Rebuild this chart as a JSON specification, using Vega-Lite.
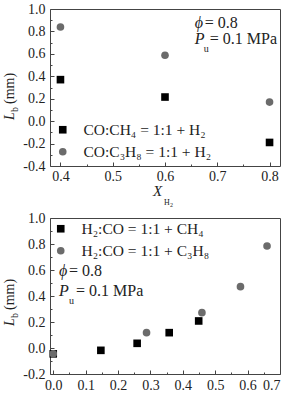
{
  "$schema": "https://vega.github.io/schema/vega-lite/v6.json",
  "padding": {"left": 2, "top": 1, "right": 0, "bottom": 0},
  "bounds": "flush",
  "spacing": 52,
  "background": "white",
  "config": {
    "view": {"stroke": "#444", "strokeWidth": 1},
    "axis": {"domain": false, "grid": false, "tickColor": "#444", "labelFont": "Liberation Serif", "labelFontSize": 14, "labelColor": "#222", "offset": 0},
    "axisLeft": {"labelPadding": 9},
    "axisBottom": {"labelPadding": 7},
    "text": {"font": "Liberation Serif", "color": "#222"},
    "legend": {"labelFont": "Liberation Serif"}
  },
  "resolve": {"scale": {"color": "independent", "shape": "independent"}, "legend": {"color": "independent", "shape": "independent"}},
  "vconcat": [
    {
      "width": 230,
      "height": 157,
      "data": {"values": [
        {"series": "CO:CH₄ = 1:1 + H₂", "x": 0.4, "y": 0.37},
        {"series": "CO:CH₄ = 1:1 + H₂", "x": 0.6, "y": 0.215},
        {"series": "CO:CH₄ = 1:1 + H₂", "x": 0.8, "y": -0.19},
        {"series": "CO:C₃H₈ = 1:1 + H₂", "x": 0.4, "y": 0.84},
        {"series": "CO:C₃H₈ = 1:1 + H₂", "x": 0.6, "y": 0.587},
        {"series": "CO:C₃H₈ = 1:1 + H₂", "x": 0.8, "y": 0.17}
      ]},
      "resolve": {"axis": {"x": "independent", "y": "independent"}},
      "layer": [
        {
          "mark": {"type": "point", "filled": true, "opacity": 1, "size": 58},
          "encoding": {
            "x": {"field": "x", "type": "quantitative", "scale": {"domain": [0.38, 0.82], "nice": false, "zero": false}, "axis": {"values": [0.4, 0.45, 0.5, 0.55, 0.6, 0.65, 0.7, 0.75, 0.8], "format": ".1f", "labelExpr": "round(datum.value*20) % 2 == 0 ? datum.label : ''", "tickSize": {"condition": {"test": "round(datum.value*20) % 2 == 0", "value": -4}, "value": -2}, "title": null, "orient": "bottom"}},
            "y": {"field": "y", "type": "quantitative", "scale": {"domain": [-0.4, 1.0], "nice": false, "zero": false}, "axis": {"values": [-0.4, -0.3, -0.2, -0.1, 0, 0.1, 0.2, 0.3, 0.4, 0.5, 0.6, 0.7, 0.8, 0.9, 1.0], "format": ".1f", "labelExpr": "round(datum.value*10) % 2 == 0 ? replace(datum.label, '−', '-') : ''", "tickSize": {"condition": {"test": "round(datum.value*10) % 2 == 0", "value": -4}, "value": -2}, "title": null, "orient": "left"}},
            "shape": {"field": "series", "type": "nominal", "scale": {"domain": ["CO:CH₄ = 1:1 + H₂", "CO:C₃H₈ = 1:1 + H₂"], "range": ["square", "circle"]},
              "legend": {"title": null, "orient": "bottom-left", "offset": 5, "padding": 0, "rowPadding": 5, "labelOffset": 13, "labelFont": "Liberation Serif", "labelFontSize": 15.5, "labelColor": "#222", "symbolSize": 58, "symbolStrokeWidth": 0, "labelLimit": 200}},
            "color": {"field": "series", "type": "nominal", "scale": {"domain": ["CO:CH₄ = 1:1 + H₂", "CO:C₃H₈ = 1:1 + H₂"], "range": ["#000000", "#6b6b6b"]},
              "legend": {"title": null, "orient": "bottom-left", "offset": 5, "padding": 0, "rowPadding": 5, "labelOffset": 13, "labelFont": "Liberation Serif", "labelFontSize": 15.5, "labelColor": "#222", "symbolSize": 58, "symbolStrokeWidth": 0, "labelLimit": 200}}
          }
        },
        {
          "data": {"values": [{}]},
          "mark": {"type": "text", "text": "ϕ", "font": "Liberation Serif", "fontStyle": "italic", "fontSize": 16, "align": "left", "baseline": "alphabetic"},
          "encoding": {
            "x": {"datum": 0.657, "type": "quantitative", "scale": {"domain": [0.38, 0.82], "nice": false, "zero": false}, "axis": null},
            "y": {"datum": 0.83, "type": "quantitative", "scale": {"domain": [-0.4, 1.0], "nice": false, "zero": false}, "axis": null}
          }
        },
        {
          "data": {"values": [{}]},
          "mark": {"type": "text", "text": "= 0.8", "font": "Liberation Serif", "fontSize": 16, "align": "left", "baseline": "alphabetic", "dx": 10},
          "encoding": {
            "x": {"datum": 0.657, "type": "quantitative", "scale": {"domain": [0.38, 0.82], "nice": false, "zero": false}, "axis": null},
            "y": {"datum": 0.83, "type": "quantitative", "scale": {"domain": [-0.4, 1.0], "nice": false, "zero": false}, "axis": null}
          }
        },
        {
          "data": {"values": [{}]},
          "mark": {"type": "text", "text": "P", "font": "Liberation Serif", "fontStyle": "italic", "fontSize": 16, "align": "left", "baseline": "alphabetic"},
          "encoding": {
            "x": {"datum": 0.657, "type": "quantitative", "scale": {"domain": [0.38, 0.82], "nice": false, "zero": false}, "axis": null},
            "y": {"datum": 0.688, "type": "quantitative", "scale": {"domain": [-0.4, 1.0], "nice": false, "zero": false}, "axis": null}
          }
        },
        {
          "data": {"values": [{}]},
          "mark": {"type": "text", "text": "u", "font": "Liberation Serif", "fontSize": 10, "align": "left", "baseline": "alphabetic", "dx": 9, "dy": 8},
          "encoding": {
            "x": {"datum": 0.657, "type": "quantitative", "scale": {"domain": [0.38, 0.82], "nice": false, "zero": false}, "axis": null},
            "y": {"datum": 0.688, "type": "quantitative", "scale": {"domain": [-0.4, 1.0], "nice": false, "zero": false}, "axis": null}
          }
        },
        {
          "data": {"values": [{}]},
          "mark": {"type": "text", "text": "= 0.1 MPa", "font": "Liberation Serif", "fontSize": 16, "align": "left", "baseline": "alphabetic", "dx": 15},
          "encoding": {
            "x": {"datum": 0.657, "type": "quantitative", "scale": {"domain": [0.38, 0.82], "nice": false, "zero": false}, "axis": null},
            "y": {"datum": 0.688, "type": "quantitative", "scale": {"domain": [-0.4, 1.0], "nice": false, "zero": false}, "axis": null}
          }
        },
        {
          "data": {"values": [{}]},
          "mark": {"type": "text", "text": "X", "font": "Liberation Serif", "fontStyle": "italic", "fontSize": 15, "align": "left", "baseline": "alphabetic", "dy": 30},
          "encoding": {
            "x": {"datum": 0.577, "type": "quantitative", "scale": {"domain": [0.38, 0.82], "nice": false, "zero": false}, "axis": null},
            "y": {"datum": -0.4, "type": "quantitative", "scale": {"domain": [-0.4, 1.0], "nice": false, "zero": false}, "axis": null}
          }
        },
        {
          "data": {"values": [{}]},
          "mark": {"type": "text", "text": "H", "font": "Liberation Serif", "fontSize": 8, "align": "left", "baseline": "alphabetic", "dx": 11, "dy": 39},
          "encoding": {
            "x": {"datum": 0.577, "type": "quantitative", "scale": {"domain": [0.38, 0.82], "nice": false, "zero": false}, "axis": null},
            "y": {"datum": -0.4, "type": "quantitative", "scale": {"domain": [-0.4, 1.0], "nice": false, "zero": false}, "axis": null}
          }
        },
        {
          "data": {"values": [{}]},
          "mark": {"type": "text", "text": "2", "font": "Liberation Serif", "fontSize": 6, "align": "left", "baseline": "alphabetic", "dx": 17, "dy": 41},
          "encoding": {
            "x": {"datum": 0.577, "type": "quantitative", "scale": {"domain": [0.38, 0.82], "nice": false, "zero": false}, "axis": null},
            "y": {"datum": -0.4, "type": "quantitative", "scale": {"domain": [-0.4, 1.0], "nice": false, "zero": false}, "axis": null}
          }
        },
        {
          "data": {"values": [{}]},
          "mark": {"type": "text", "text": "L", "font": "Liberation Serif", "fontStyle": "italic", "fontSize": 14, "align": "left", "baseline": "alphabetic", "angle": 270, "dy": -36},
          "encoding": {
            "x": {"datum": 0.38, "type": "quantitative", "scale": {"domain": [0.38, 0.82], "nice": false, "zero": false}, "axis": null},
            "y": {"datum": 0.01, "type": "quantitative", "scale": {"domain": [-0.4, 1.0], "nice": false, "zero": false}, "axis": null}
          }
        },
        {
          "data": {"values": [{}]},
          "mark": {"type": "text", "text": "b", "font": "Liberation Serif", "fontSize": 10, "align": "left", "baseline": "alphabetic", "angle": 270, "dx": 8, "dy": -32},
          "encoding": {
            "x": {"datum": 0.38, "type": "quantitative", "scale": {"domain": [0.38, 0.82], "nice": false, "zero": false}, "axis": null},
            "y": {"datum": 0.01, "type": "quantitative", "scale": {"domain": [-0.4, 1.0], "nice": false, "zero": false}, "axis": null}
          }
        },
        {
          "data": {"values": [{}]},
          "mark": {"type": "text", "text": "(mm)", "font": "Liberation Serif", "fontSize": 14, "align": "left", "baseline": "alphabetic", "angle": 270, "dx": 16, "dy": -36},
          "encoding": {
            "x": {"datum": 0.38, "type": "quantitative", "scale": {"domain": [0.38, 0.82], "nice": false, "zero": false}, "axis": null},
            "y": {"datum": 0.01, "type": "quantitative", "scale": {"domain": [-0.4, 1.0], "nice": false, "zero": false}, "axis": null}
          }
        }
      ]
    },
    {
      "width": 230,
      "height": 156,
      "data": {"values": [
        {"series": "H₂:CO = 1:1 + CH₄", "x": 0.0, "y": -0.045},
        {"series": "H₂:CO = 1:1 + CH₄", "x": 0.147, "y": -0.018},
        {"series": "H₂:CO = 1:1 + CH₄", "x": 0.259, "y": 0.036},
        {"series": "H₂:CO = 1:1 + CH₄", "x": 0.358, "y": 0.118},
        {"series": "H₂:CO = 1:1 + CH₄", "x": 0.449, "y": 0.208},
        {"series": "H₂:CO = 1:1 + C₃H₈", "x": 0.0, "y": -0.044},
        {"series": "H₂:CO = 1:1 + C₃H₈", "x": 0.288, "y": 0.118},
        {"series": "H₂:CO = 1:1 + C₃H₈", "x": 0.459, "y": 0.272},
        {"series": "H₂:CO = 1:1 + C₃H₈", "x": 0.578, "y": 0.472},
        {"series": "H₂:CO = 1:1 + C₃H₈", "x": 0.66, "y": 0.785}
      ]},
      "resolve": {"axis": {"x": "independent", "y": "independent"}},
      "layer": [
        {
          "mark": {"type": "point", "filled": true, "opacity": 1, "size": 58},
          "encoding": {
            "x": {"field": "x", "type": "quantitative", "scale": {"domain": [-0.01, 0.7], "nice": false, "zero": false}, "axis": {"values": [0, 0.05, 0.1, 0.15, 0.2, 0.25, 0.3, 0.35, 0.4, 0.45, 0.5, 0.55, 0.6, 0.65, 0.7], "format": ".1f", "labelExpr": "round(datum.value*20) % 2 == 0 ? datum.label : ''", "tickSize": {"condition": {"test": "round(datum.value*20) % 2 == 0", "value": -4}, "value": -2}, "title": null, "orient": "bottom", "labelPadding": 8}},
            "y": {"field": "y", "type": "quantitative", "scale": {"domain": [-0.2, 1.0], "nice": false, "zero": false}, "axis": {"values": [-0.2, -0.1, 0, 0.1, 0.2, 0.3, 0.4, 0.5, 0.6, 0.7, 0.8, 0.9, 1.0], "format": ".1f", "labelExpr": "round(datum.value*10) % 2 == 0 ? replace(datum.label, '−', '-') : ''", "tickSize": {"condition": {"test": "round(datum.value*10) % 2 == 0", "value": -4}, "value": -2}, "title": null, "orient": "left"}},
            "shape": {"field": "series", "type": "nominal", "scale": {"domain": ["H₂:CO = 1:1 + CH₄", "H₂:CO = 1:1 + C₃H₈"], "range": ["square", "circle"]},
              "legend": {"title": null, "orient": "top-left", "offset": 3, "padding": 0, "rowPadding": 5, "labelOffset": 13, "labelFont": "Liberation Serif", "labelFontSize": 15.5, "labelColor": "#222", "symbolSize": 58, "symbolStrokeWidth": 0, "labelLimit": 200}},
            "color": {"field": "series", "type": "nominal", "scale": {"domain": ["H₂:CO = 1:1 + CH₄", "H₂:CO = 1:1 + C₃H₈"], "range": ["#000000", "#6b6b6b"]},
              "legend": {"title": null, "orient": "top-left", "offset": 3, "padding": 0, "rowPadding": 5, "labelOffset": 13, "labelFont": "Liberation Serif", "labelFontSize": 15.5, "labelColor": "#222", "symbolSize": 58, "symbolStrokeWidth": 0, "labelLimit": 200}}
          }
        },
        {
          "data": {"values": [{}]},
          "mark": {"type": "text", "text": "ϕ", "font": "Liberation Serif", "fontStyle": "italic", "fontSize": 16, "align": "left", "baseline": "alphabetic"},
          "encoding": {
            "x": {"datum": 0.0178, "type": "quantitative", "scale": {"domain": [-0.01, 0.7], "nice": false, "zero": false}, "axis": null},
            "y": {"datum": 0.554, "type": "quantitative", "scale": {"domain": [-0.2, 1.0], "nice": false, "zero": false}, "axis": null}
          }
        },
        {
          "data": {"values": [{}]},
          "mark": {"type": "text", "text": "= 0.8", "font": "Liberation Serif", "fontSize": 16, "align": "left", "baseline": "alphabetic", "dx": 10},
          "encoding": {
            "x": {"datum": 0.0178, "type": "quantitative", "scale": {"domain": [-0.01, 0.7], "nice": false, "zero": false}, "axis": null},
            "y": {"datum": 0.554, "type": "quantitative", "scale": {"domain": [-0.2, 1.0], "nice": false, "zero": false}, "axis": null}
          }
        },
        {
          "data": {"values": [{}]},
          "mark": {"type": "text", "text": "P", "font": "Liberation Serif", "fontStyle": "italic", "fontSize": 16, "align": "left", "baseline": "alphabetic"},
          "encoding": {
            "x": {"datum": 0.0178, "type": "quantitative", "scale": {"domain": [-0.01, 0.7], "nice": false, "zero": false}, "axis": null},
            "y": {"datum": 0.4, "type": "quantitative", "scale": {"domain": [-0.2, 1.0], "nice": false, "zero": false}, "axis": null}
          }
        },
        {
          "data": {"values": [{}]},
          "mark": {"type": "text", "text": "u", "font": "Liberation Serif", "fontSize": 10, "align": "left", "baseline": "alphabetic", "dx": 10, "dy": 8},
          "encoding": {
            "x": {"datum": 0.0178, "type": "quantitative", "scale": {"domain": [-0.01, 0.7], "nice": false, "zero": false}, "axis": null},
            "y": {"datum": 0.4, "type": "quantitative", "scale": {"domain": [-0.2, 1.0], "nice": false, "zero": false}, "axis": null}
          }
        },
        {
          "data": {"values": [{}]},
          "mark": {"type": "text", "text": "= 0.1 MPa", "font": "Liberation Serif", "fontSize": 16, "align": "left", "baseline": "alphabetic", "dx": 17},
          "encoding": {
            "x": {"datum": 0.0178, "type": "quantitative", "scale": {"domain": [-0.01, 0.7], "nice": false, "zero": false}, "axis": null},
            "y": {"datum": 0.4, "type": "quantitative", "scale": {"domain": [-0.2, 1.0], "nice": false, "zero": false}, "axis": null}
          }
        },
        {
          "data": {"values": [{}]},
          "mark": {"type": "text", "text": "L", "font": "Liberation Serif", "fontStyle": "italic", "fontSize": 14, "align": "left", "baseline": "alphabetic", "angle": 270, "dy": -36},
          "encoding": {
            "x": {"datum": -0.01, "type": "quantitative", "scale": {"domain": [-0.01, 0.7], "nice": false, "zero": false}, "axis": null},
            "y": {"datum": 0.169, "type": "quantitative", "scale": {"domain": [-0.2, 1.0], "nice": false, "zero": false}, "axis": null}
          }
        },
        {
          "data": {"values": [{}]},
          "mark": {"type": "text", "text": "b", "font": "Liberation Serif", "fontSize": 10, "align": "left", "baseline": "alphabetic", "angle": 270, "dx": 8, "dy": -32},
          "encoding": {
            "x": {"datum": -0.01, "type": "quantitative", "scale": {"domain": [-0.01, 0.7], "nice": false, "zero": false}, "axis": null},
            "y": {"datum": 0.169, "type": "quantitative", "scale": {"domain": [-0.2, 1.0], "nice": false, "zero": false}, "axis": null}
          }
        },
        {
          "data": {"values": [{}]},
          "mark": {"type": "text", "text": "(mm)", "font": "Liberation Serif", "fontSize": 14, "align": "left", "baseline": "alphabetic", "angle": 270, "dx": 16, "dy": -36},
          "encoding": {
            "x": {"datum": -0.01, "type": "quantitative", "scale": {"domain": [-0.01, 0.7], "nice": false, "zero": false}, "axis": null},
            "y": {"datum": 0.169, "type": "quantitative", "scale": {"domain": [-0.2, 1.0], "nice": false, "zero": false}, "axis": null}
          }
        }
      ]
    }
  ]
}
